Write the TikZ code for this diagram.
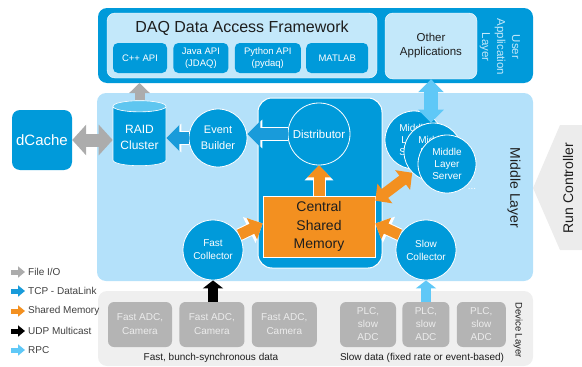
\documentclass[tikz,border=0pt]{standalone}
\usepackage{fontspec}
\setmainfont{Liberation Sans}
\usetikzlibrary{shapes.geometric, arrows.meta, positioning, calc}
\definecolor{daqblue}{RGB}{0,154,218}
\definecolor{midblue}{RGB}{180,225,250}
\definecolor{paleblue}{RGB}{195,232,250}
\definecolor{raidtop}{RGB}{95,198,240}
\definecolor{memorange}{RGB}{243,144,32}
\definecolor{filegray}{RGB}{172,172,172}
\definecolor{rpcblue}{RGB}{95,200,247}
\definecolor{tcpblue}{RGB}{25,155,218}
\definecolor{devgray}{RGB}{239,239,239}
\definecolor{adcgray}{RGB}{180,180,180}
\definecolor{adctext}{RGB}{236,236,236}
\definecolor{runcgray}{RGB}{236,236,236}
\definecolor{inktext}{RGB}{30,30,30}
\newcommand\fsz[2]{\fontsize{#1}{#2}\selectfont}

\tikzset{
  apibox/.style={rectangle, rounded corners=5pt, fill=daqblue, text=white, align=center,
    font=\fsz{9.5}{12}, minimum height=30pt, inner sep=1pt},
  bubble/.style={circle, fill=daqblue, draw=white, line width=0.8pt, text=white,
    align=center, minimum size=58pt, inner sep=0pt},
  devbox/.style={rectangle, rounded corners=6pt, fill=adcgray, text=adctext, align=center,
    minimum height=45pt, inner sep=1pt},
  layerlabel/.style={rotate=-90, align=center, text=inktext},
  legtext/.style={anchor=west, font=\fsz{10}{12}, text=inktext!85, inner sep=1pt},
  % white rim under a fat arrow
  rim/.style={preaction={draw=white, line width=#1, -{Triangle[length=15pt,width=28pt]}}},
  % fat connector arrows, one style per link type
  fileio/.style={draw=filegray, line width=13pt, {Triangle[length=14pt,width=30pt]}-{Triangle[length=14pt,width=30pt]}},
  fileup/.style={draw=filegray, line width=10pt, -{Triangle[length=10pt,width=20pt]}},
  tcp/.style={rim=14pt, draw=tcpblue, line width=12pt, -{Triangle[length=13pt,width=25pt]}},
  shmem/.style={rim=13pt, draw=memorange, line width=11pt, -{Triangle[length=12pt,width=23pt]}},
  shmemboth/.style={draw=memorange, line width=11pt, {Triangle[length=12pt,width=24pt]}-{Triangle[length=12pt,width=24pt]}},
  rpcboth/.style={draw=rpcblue, line width=14pt, {Triangle[length=13pt,width=25pt]}-{Triangle[length=13pt,width=25pt]}},
  udp/.style={draw=black, line width=10pt, -{Triangle[length=8pt,width=20pt]}},
  rpc/.style={draw=rpcblue, line width=10pt, -{Triangle[length=8pt,width=20pt]}},
  legarrow/.style={line width=5pt, -{Triangle[length=7pt,width=11pt]}},
}

\begin{document}
\begin{tikzpicture}[x=1pt, y=-1pt]
  \useasboundingbox (0,0) rectangle (582,367);

  % User application layer
  \fill[daqblue, rounded corners=9pt] (98,8) rectangle (533,83);
  \coordinate (uappbot) at (140,83);
  \filldraw[paleblue, draw=white, rounded corners=8pt] (107,13) rectangle (377,78);
  \node[font=\fsz{16}{19}, text=inktext] (daqtitle) at (242,28) {DAQ Data Access Framework};
  \node[apibox, minimum width=54pt] (cpp) at (140,58) {C++ API};
  \node[apibox, minimum width=55pt, right=6pt of cpp] (java) {Java API\\(JDAQ)};
  \node[apibox, minimum width=66pt, right=6pt of java] (python) {Python API\\(pydaq)};
  \node[apibox, minimum width=62pt, right=5pt of python] (matlab) {MATLAB};
  \node[rectangle, rounded corners=8pt, fill=paleblue, draw=white, text=inktext, align=center,
    font=\fsz{11.5}{14}, minimum width=92pt, minimum height=66pt] (other) at (431,46) {Other\\Applications};
  \node[layerlabel, text=paleblue, font=\fsz{11.5}{15}] (ualabel) at (500,47) {User\\Application\\Layer};

  % Middle layer
  \fill[midblue, rounded corners=9pt] (97,93) rectangle (533,281);
  \node[layerlabel, font=\fsz{14}{16}] (mllabel) at (514,188) {Middle Layer};

  \node[rectangle, rounded corners=8pt, fill=daqblue, text=white, font=\fsz{15}{18},
    minimum width=60pt, minimum height=60pt] (dcache) at (42,140) {dCache};
  \node[cylinder, shape border rotate=90, aspect=0.25, minimum width=53pt, minimum height=65pt,
    cylinder uses custom fill, cylinder body fill=daqblue, cylinder end fill=raidtop,
    draw=white, line width=0.6pt, text=white, align=center, font=\fsz{12}{16}] (raid) at (139.5,137.5) {RAID\\Cluster};
  \node[bubble, font=\fsz{11}{16}] (eb) at (218,138) {Event\\Builder};

  % Central block with distributor and shared memory
  \draw[white, fill=daqblue, line width=1pt, rounded corners=14pt] (258,98) rectangle (382,268);
  \node[bubble, minimum size=62pt, font=\fsz{11.5}{14}] (dist) at (319,134) {Distributor};
  \node[rectangle, fill=memorange, draw=white, line width=0.6pt, text=inktext, align=center,
    font=\fsz{14}{18.5}, minimum width=112pt, minimum height=61pt] (mem) at (319,226.5) {Central\\Shared\\Memory};

  % Middle layer servers (stacked)
  \node[bubble, font=\fsz{10}{12}] (srvA) at (414,140) {Middle\\Layer\\Server};
  \node[bubble, font=\fsz{10}{12}] (srvB) at (433,152) {Middle\\Layer\\Server};
  \node[bubble, font=\fsz{10}{12}] (srvC) at (447,164) {Middle\\Layer\\Server};
  \node[text=white, font=\fsz{10}{12}] (moresrv) at (472,189) {...};

  \node[bubble, minimum size=60pt, font=\fsz{10}{13}] (fastcol) at (213,250) {Fast\\Collector};
  \node[bubble, minimum size=60pt, font=\fsz{10}{13}] (slowcol) at (426,250) {Slow\\Collector};

  % Device layer
  \fill[devgray, rounded corners=9pt] (98,291) rectangle (533,366);
  \node[layerlabel, font=\fsz{9.5}{11}] (dllabel) at (518,330) {Device Layer};
  \node[devbox, minimum width=64pt, font=\fsz{10}{14}] (adcA) at (140,324.5) {Fast ADC,\\Camera};
  \node[devbox, minimum width=65pt, font=\fsz{10}{14}, right=7pt of adcA] (adcB) {Fast ADC,\\Camera};
  \node[devbox, minimum width=65pt, font=\fsz{10}{14}, right=7pt of adcB] (adcC) {Fast ADC,\\Camera};
  \node[devbox, minimum width=56pt, font=\fsz{10}{13}] (plcA) at (368,324.5) {PLC,\\slow\\ADC};
  \node[devbox, minimum width=47pt, font=\fsz{10}{13}, right=6pt of plcA] (plcB) {PLC,\\slow\\ADC};
  \node[devbox, minimum width=49pt, font=\fsz{10}{13}, right=7pt of plcB] (plcC) {PLC,\\slow\\ADC};
  \node[font=\fsz{10}{12}, text=inktext] (fastdata) at (211,358) {Fast, bunch-synchronous data};
  \node[font=\fsz{10}{12}, text=inktext] (slowdata) at (422,358) {Slow data (fixed rate or event-based)};

  % Run controller
  \fill[runcgray] (533,188) -- (560,125) -- (582,125) -- (582,250) -- (560,250) -- cycle;
  \node[rotate=90, font=\fsz{14}{16}, text=inktext] (runctl) at (568,188) {Run Controller};

  % Links
  \draw[fileio] (dcache) -- (dcache -| raid.west);
  \draw[fileup] (raid.north) -- (raid.north |- uappbot);
  \draw[tcp] (eb) -- (eb -| raid.east);
  \draw[tcp] (dist.west) -- (dist.west -| eb.east);
  \draw[shmem] (mem) -- (dist);
  \draw[shmemboth] ([yshift=-5pt]mem.north east) -- (srvB.225);
  \draw[shmem] (fastcol.30) -- ([yshift=3pt]mem.west);
  \draw[shmem] (slowcol.150) -- ([yshift=3pt]mem.east);
  \draw[rpcboth] (other.south) -- (other.south |- srvB.north);
  \draw[udp] (fastcol.south |- adcB.north) -- (fastcol.south);
  \draw[rpc] (slowcol.south |- plcB.north) -- (slowcol.south);

  % Legend
  \draw[legarrow, filegray] (11,272) -- (25,272);
  \draw[legarrow, tcpblue] (11,291) -- (25,291);
  \draw[legarrow, memorange] (11,311) -- (25,311);
  \draw[legarrow, black] (11,331) -- (25,331);
  \draw[legarrow, rpcblue] (11,350) -- (25,350);
  \node[legtext] (legfile) at (27,272) {File I/O};
  \node[legtext] (legtcp) at (27,291) {TCP - DataLink};
  \node[legtext] (legshm) at (27,311) {Shared Memory};
  \node[legtext] (legudp) at (27,331) {UDP Multicast};
  \node[legtext] (legrpc) at (27,350) {RPC};
\end{tikzpicture}
\end{document}
